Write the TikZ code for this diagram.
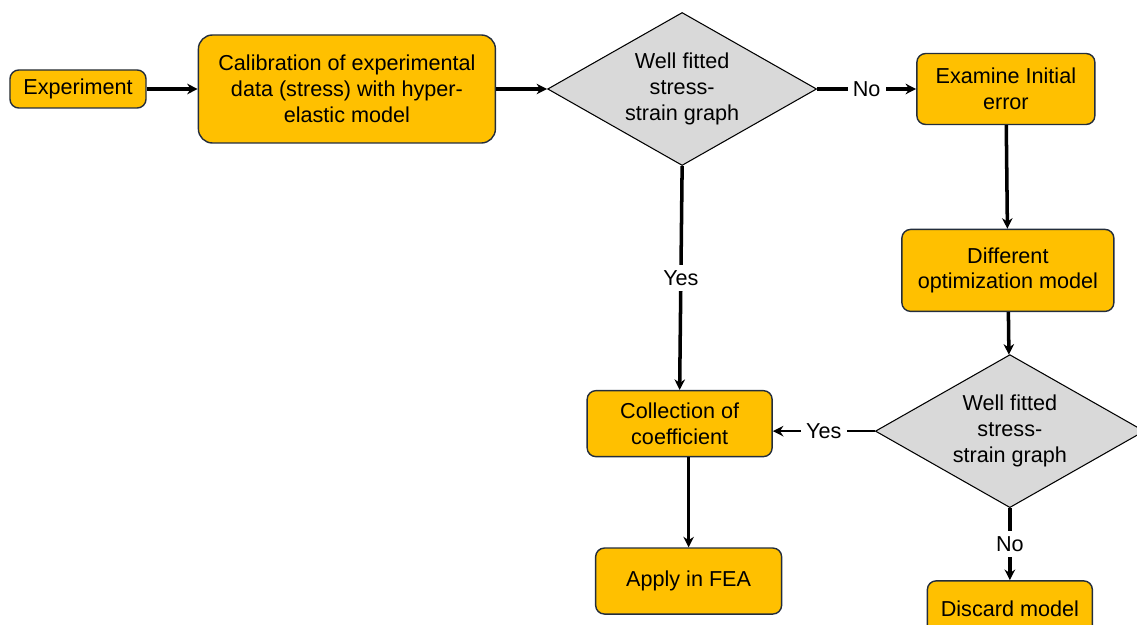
\documentclass[tikz,border=0pt]{standalone}
\usepackage{fontspec}
\setmainfont{Liberation Sans}
\usetikzlibrary{shapes.geometric, positioning, arrows.meta}
\definecolor{boxgold}{RGB}{255, 192, 0}
\definecolor{boxedge}{RGB}{35, 45, 60}
\definecolor{diagray}{RGB}{217, 217, 217}

\begin{document}
\begin{tikzpicture}[
      font=\fontsize{12.3}{14.7}\selectfont,
      >={Stealth[length=6pt, width=6pt]},
      block/.style={rectangle, rounded corners=5pt, draw=boxedge, line width=0.8pt,
                    fill=boxgold, align=center, inner sep=2pt},
      decision/.style={diamond, draw=black, line width=0.6pt, fill=diagray,
                       align=center, inner sep=0pt, aspect=1.76,
                       minimum width=5.38cm, minimum height=3.06cm},
      arrow/.style={->, line width=2pt},
      thinarrow/.style={->, line width=0.9pt},
      lbl/.style={fill=white, inner sep=3pt}
  ]
  \useasboundingbox (0,0) rectangle (22.74,-12.5);

  \node[block, minimum width=2.72cm, minimum height=0.76cm] (exp) at (1.56,-1.78) {Experiment};
  \node[block, right=1.02cm of exp, minimum width=5.94cm, minimum height=2.16cm,
        rounded corners=8pt] (cal) {Calibration of experimental\\ data (stress) with hyper-\\ elastic model};
  \node[decision, right=1.02cm of cal]  (fit1) {Well fitted\\ stress-\\ strain graph};
  \node[block, right=1.98cm of fit1, minimum width=3.56cm, minimum height=1.42cm] (chk) {Examine Initial\\ error};
  \node[block, below=2.07cm of chk, xshift=0.04cm, minimum width=4.24cm, minimum height=1.64cm] (opt) {Different\\ optimization model};
  \node[decision, below=0.84cm of opt, xshift=0.04cm] (fit2) {Well fitted\\ stress-\\ strain graph};
  \node[block, left=2.04cm of fit2, yshift=0.15cm, minimum width=3.7cm, minimum height=1.32cm] (coll) {Collection of\\ coefficient};
  \node[block, below=1.8cm of coll, xshift=0.18cm, minimum width=3.72cm, minimum height=1.32cm] (fea) {Apply in FEA};
  \node[block, below=1.44cm of fit2, minimum width=3.3cm, minimum height=1.1cm] (disc) {Discard model};

  \draw[arrow] (exp) -- (cal);
  \draw[arrow] (cal) -- (fit1);
  \draw[arrow] (fit1.east) -- node[lbl] {No} (chk.west);
  \draw[arrow] (chk) -- (opt);
  \draw[arrow] (opt) -- (fit2);
  \draw[arrow] (fit1.south) -- node[lbl] {Yes} (coll.north);
  \draw[thinarrow] (fit2.west) -- node[lbl] {Yes} (fit2.west -| coll.east);
  \draw[arrow] (fit2.south) -- node[lbl] {No} (disc.north);
  \draw[arrow] (coll.south -| fea.north) -- (fea.north);
\end{tikzpicture}
\end{document}
